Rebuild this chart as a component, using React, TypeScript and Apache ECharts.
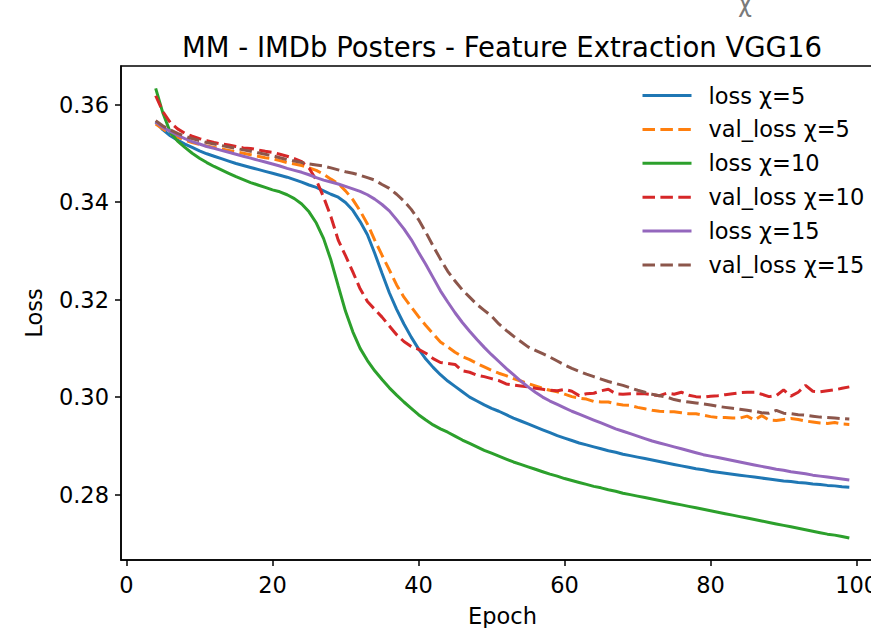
import React, { useEffect, useRef } from "react";
import * as echarts from "echarts";

const epochs = Array.from({ length: 96 }, (_, i) => i + 4);

const lossX5 = [
  0.3564, 0.3548, 0.3536, 0.3527, 0.3519, 0.3512, 0.3505, 0.3499, 0.3494, 0.3489,
  0.3484, 0.3479, 0.3475, 0.3471, 0.3467, 0.3463, 0.3459, 0.3455, 0.3451, 0.3446,
  0.3441, 0.3435, 0.343, 0.3423, 0.3416, 0.341, 0.3399, 0.3383, 0.336, 0.3333,
  0.3295, 0.3254, 0.3214, 0.318, 0.315, 0.3123, 0.3099, 0.3078, 0.3061, 0.3046,
  0.3033, 0.3022, 0.3011, 0.3, 0.2992, 0.2984, 0.2977, 0.2971, 0.2964, 0.2957,
  0.2951, 0.2945, 0.2939, 0.2933, 0.2927, 0.2921, 0.2916, 0.2911, 0.2906, 0.2902,
  0.2898, 0.2894, 0.289, 0.2887, 0.2883, 0.288, 0.2877, 0.2874, 0.2871, 0.2868,
  0.2865, 0.2862, 0.2859, 0.2856, 0.2853, 0.2851, 0.2848, 0.2846, 0.2844, 0.2842,
  0.284, 0.2838, 0.2836, 0.2834, 0.2832, 0.283, 0.2828, 0.2827, 0.2825, 0.2824,
  0.2822, 0.2821, 0.2819, 0.2818, 0.2816, 0.2815,
];

const valLossX5 = [
  0.356, 0.355, 0.354, 0.3533, 0.3527, 0.3522, 0.3518, 0.3515, 0.3512, 0.3509,
  0.3506, 0.3503, 0.35, 0.3497, 0.3494, 0.3491, 0.3489, 0.3485, 0.3481, 0.3478,
  0.3475, 0.347, 0.3465, 0.3457, 0.3447, 0.3438, 0.3423, 0.3405, 0.3382, 0.3355,
  0.3322, 0.3291, 0.3261, 0.323, 0.3205, 0.3185, 0.3165, 0.3147, 0.313, 0.3113,
  0.3103, 0.3092, 0.3083, 0.3077, 0.3069, 0.3062, 0.3055, 0.3049, 0.3044, 0.3038,
  0.3033, 0.3028, 0.3023, 0.3018, 0.3014, 0.3011, 0.3006, 0.3001, 0.2998, 0.2996,
  0.2991, 0.299, 0.299, 0.2986, 0.2984, 0.2983, 0.2979, 0.2976, 0.2973, 0.2971,
  0.297, 0.297, 0.2968, 0.2966, 0.2966, 0.2963, 0.296, 0.2958, 0.2958, 0.2957,
  0.2957, 0.2961, 0.2953, 0.2962, 0.2953, 0.2952, 0.2954, 0.2956, 0.2954, 0.2951,
  0.2949, 0.2947, 0.2946, 0.2948, 0.2945, 0.2944,
];

const lossX10 = [
  0.3633, 0.3582, 0.3543, 0.3525, 0.3512, 0.35, 0.349, 0.3481, 0.3473, 0.3466,
  0.3459, 0.3452, 0.3446, 0.344, 0.3435, 0.343, 0.3425, 0.3421, 0.3415, 0.3407,
  0.3396, 0.338, 0.3357, 0.3325, 0.3281, 0.3228, 0.3176, 0.3134, 0.31, 0.3075,
  0.3054, 0.3036, 0.3019, 0.3004, 0.299, 0.2977, 0.2964, 0.2953, 0.2943, 0.2935,
  0.2928, 0.292, 0.2912, 0.2905, 0.2898, 0.2891, 0.2885, 0.2879, 0.2873, 0.2867,
  0.2862, 0.2857, 0.2852, 0.2847, 0.2842, 0.2838, 0.2833, 0.2829, 0.2825, 0.2821,
  0.2817, 0.2814, 0.281, 0.2807, 0.2803, 0.28, 0.2797, 0.2794, 0.2791, 0.2788,
  0.2785, 0.2782, 0.2779, 0.2776, 0.2773, 0.277, 0.2767, 0.2764, 0.2761, 0.2758,
  0.2755, 0.2752, 0.2749, 0.2746, 0.2743, 0.274, 0.2737, 0.2734, 0.2731, 0.2728,
  0.2725, 0.2722, 0.2719, 0.2717, 0.2714, 0.2711,
];

const valLossX10 = [
  0.3618, 0.3585, 0.3563, 0.355, 0.3541, 0.3535, 0.353, 0.3526, 0.3522, 0.3519,
  0.3517, 0.3514, 0.3511, 0.351, 0.3507, 0.3504, 0.3502, 0.3498, 0.3494, 0.3489,
  0.3483, 0.347, 0.3445, 0.341, 0.337, 0.3322, 0.329, 0.3257, 0.3222, 0.3196,
  0.318, 0.3164, 0.3146, 0.3128, 0.3114, 0.3104, 0.3098, 0.309, 0.3079, 0.3071,
  0.3069, 0.3067, 0.3054, 0.3051, 0.3045, 0.3042, 0.3038, 0.3034, 0.3027, 0.3025,
  0.3023, 0.3021, 0.3018, 0.3016, 0.3014, 0.3013, 0.3016, 0.3012, 0.3003, 0.3007,
  0.3008, 0.3013, 0.3016, 0.3007, 0.3006, 0.3007, 0.3007, 0.3007, 0.3005, 0.3003,
  0.3008, 0.3006, 0.301, 0.3004, 0.3001, 0.3, 0.3002, 0.3003, 0.3005, 0.3007,
  0.3009, 0.301, 0.301, 0.3006, 0.3001, 0.3003, 0.3015, 0.3002, 0.301, 0.3024,
  0.3012, 0.3011, 0.3013, 0.3015, 0.3018, 0.3021,
];

const lossX15 = [
  0.3564, 0.3553, 0.3545, 0.3537, 0.353, 0.3524, 0.3519, 0.3514, 0.351, 0.3506,
  0.3502, 0.3498, 0.3494, 0.349, 0.3486, 0.3482, 0.3478, 0.3474, 0.3469, 0.3465,
  0.3461, 0.3456, 0.345, 0.3445, 0.3441, 0.3437, 0.3432, 0.3427, 0.3422, 0.3415,
  0.3406, 0.3395, 0.3382, 0.3364, 0.3345, 0.3323, 0.3297, 0.3272, 0.3245, 0.3218,
  0.3195, 0.3173, 0.3153, 0.3135, 0.3118, 0.3102, 0.3087, 0.3073, 0.3059, 0.3046,
  0.3033, 0.3021, 0.301, 0.3, 0.2992, 0.2985, 0.2978, 0.2971, 0.2965, 0.2959,
  0.2953, 0.2947, 0.2941, 0.2935, 0.293, 0.2925, 0.292, 0.2915, 0.291, 0.2906,
  0.2902, 0.2898, 0.2894, 0.289, 0.2886, 0.2882, 0.2879, 0.2876, 0.2873, 0.287,
  0.2867, 0.2864, 0.2861, 0.2858, 0.2855, 0.2852, 0.285, 0.2847, 0.2845, 0.2843,
  0.284, 0.2838, 0.2836, 0.2834, 0.2832, 0.283,
];

const valLossX15 = [
  0.3567, 0.3556, 0.3548, 0.3541, 0.3535, 0.353, 0.3526, 0.3522, 0.3519, 0.3516,
  0.3513, 0.351, 0.3507, 0.3504, 0.3501, 0.3498, 0.3495, 0.3491, 0.3487, 0.3484,
  0.3481, 0.3478, 0.3476, 0.3474, 0.347, 0.3466, 0.3462, 0.3459, 0.3455, 0.345,
  0.3445, 0.3436, 0.3428, 0.3416, 0.3402, 0.3385, 0.3364, 0.3338, 0.331, 0.3283,
  0.3258, 0.3238, 0.322, 0.3205, 0.319, 0.3178, 0.3166, 0.315, 0.3137, 0.3125,
  0.3114, 0.3103, 0.3096, 0.3089, 0.3082, 0.3074, 0.3066, 0.3059, 0.3053, 0.3047,
  0.3042, 0.3037, 0.3032, 0.3028, 0.3024, 0.3019, 0.3014, 0.301, 0.3006, 0.3003,
  0.3, 0.2995, 0.2992, 0.299, 0.2988, 0.2986, 0.2984, 0.2981, 0.2979, 0.2977,
  0.2975, 0.2973, 0.2971, 0.2968, 0.2967, 0.2973, 0.2967, 0.2966, 0.2964, 0.2963,
  0.2961, 0.2959, 0.2958, 0.2957, 0.2956, 0.2955,
];

const seriesNames = [
  "loss χ=5",
  "val_loss χ=5",
  "loss χ=10",
  "val_loss χ=10",
  "loss χ=15",
  "val_loss χ=15",
];
const seriesValues = [lossX5, valLossX5, lossX10, valLossX10, lossX15, valLossX15];
const seriesColors = ["#1f77b4", "#ff7f0e", "#2ca02c", "#d62728", "#9467bd", "#8c564b"];
const seriesDashed = [false, true, false, true, false, true];

const xTicks = [0, 20, 40, 60, 80, 100];
const yTicks = [0.28, 0.3, 0.32, 0.34, 0.36];

const titleText = "MM - IMDb Posters - Feature Extraction VGG16";
const FONT = "DejaVu Sans";
const DASH = [12.5, 5.4];

export default function App() {
  const ref = useRef<HTMLDivElement>(null);

  useEffect(() => {
    if (!ref.current) return;
    const chart = echarts.init(ref.current, null, { renderer: "svg" });

    const series = seriesNames.map((name, k) => ({
      name,
      type: "line",
      data: epochs.map((e, i) => [e, seriesValues[k][i]]),
      showSymbol: false,
      symbol: "none",
      smooth: false,
      lineStyle: {
        color: seriesColors[k],
        width: 3,
        type: seriesDashed[k] ? DASH : "solid",
        cap: "butt",
      },
      itemStyle: { color: seriesColors[k] },
      emphasis: { disabled: true },
      z: 2 + k,
    }));

    chart.setOption({
      animation: false,
      backgroundColor: "#ffffff",
      title: {
        text: titleText,
        left: 497,
        top: 28,
        textAlign: "center",
        textStyle: {
          fontFamily: FONT,
          fontSize: 27.5,
          fontWeight: "normal",
          color: "#000",
        },
      },
      legend: {
        orient: "vertical",
        left: 641,
        top: 84,
        padding: 0,
        itemWidth: 49,
        itemHeight: 14,
        itemGap: 10.9,
        data: seriesNames.map((name, k) => ({
          name,
          itemStyle: { opacity: 0 },
          lineStyle: {
            color: seriesColors[k],
            width: 3,
            type: seriesDashed[k] ? DASH : "solid",
            cap: "butt",
          },
        })),
        itemStyle: { opacity: 0 },
        textStyle: {
          fontFamily: FONT,
          fontSize: 22.5,
          color: "#000",
          lineHeight: 22,
          padding: [0, 0, 0, 12],
        },
      },
      grid: {
        left: 121,
        top: 66,
        width: 763,
        height: 494,
        show: true,
        borderColor: "#000",
        borderWidth: 1.5,
        containLabel: false,
        outerBoundsMode: "none",
      },
      xAxis: {
        type: "value",
        min: -0.75,
        max: 103.75,
        name: "Epoch",
        nameLocation: "middle",
        nameGap: 44,
        nameTextStyle: { fontFamily: FONT, fontSize: 22.5, color: "#000" },
        splitLine: { show: false },
        axisLine: { show: true, onZero: false, lineStyle: { color: "#000", width: 1.5 } },
        axisTick: {
          show: true,
          length: 6,
          customValues: xTicks,
          lineStyle: { color: "#000", width: 1.5 },
        },
        axisLabel: {
          customValues: xTicks,
          margin: 13,
          fontFamily: FONT,
          fontSize: 22.5,
          color: "#000",
        },
      },
      yAxis: {
        type: "value",
        min: 0.2666,
        max: 0.3679,
        name: "Loss",
        nameLocation: "middle",
        nameRotate: 90,
        nameGap: 76,
        nameTextStyle: { fontFamily: FONT, fontSize: 22.5, color: "#000" },
        splitLine: { show: false },
        axisLine: { show: true, onZero: false, lineStyle: { color: "#000", width: 1.5 } },
        axisTick: {
          show: true,
          length: 6,
          customValues: yTicks,
          lineStyle: { color: "#000", width: 1.5 },
        },
        axisLabel: {
          customValues: yTicks,
          margin: 12,
          fontFamily: FONT,
          fontSize: 22.5,
          color: "#000",
          formatter: (v: number) => v.toFixed(2),
        },
      },
      graphic: [
        {
          type: "text",
          left: 738,
          top: -8,
          silent: true,
          style: {
            text: "χ",
            fontFamily: FONT,
            fontSize: 24,
            fill: "#555",
            opacity: 0.8,
          },
        },
      ],
      series,
    });

    return () => chart.dispose();
  }, []);

  return (
    <div
      style={{
        position: "fixed",
        left: 0,
        top: 0,
        width: 871,
        height: 628,
        overflow: "hidden",
        background: "#fff",
      }}
    >
      <div ref={ref} style={{ width: 900, height: 628 }} />
    </div>
  );
}
